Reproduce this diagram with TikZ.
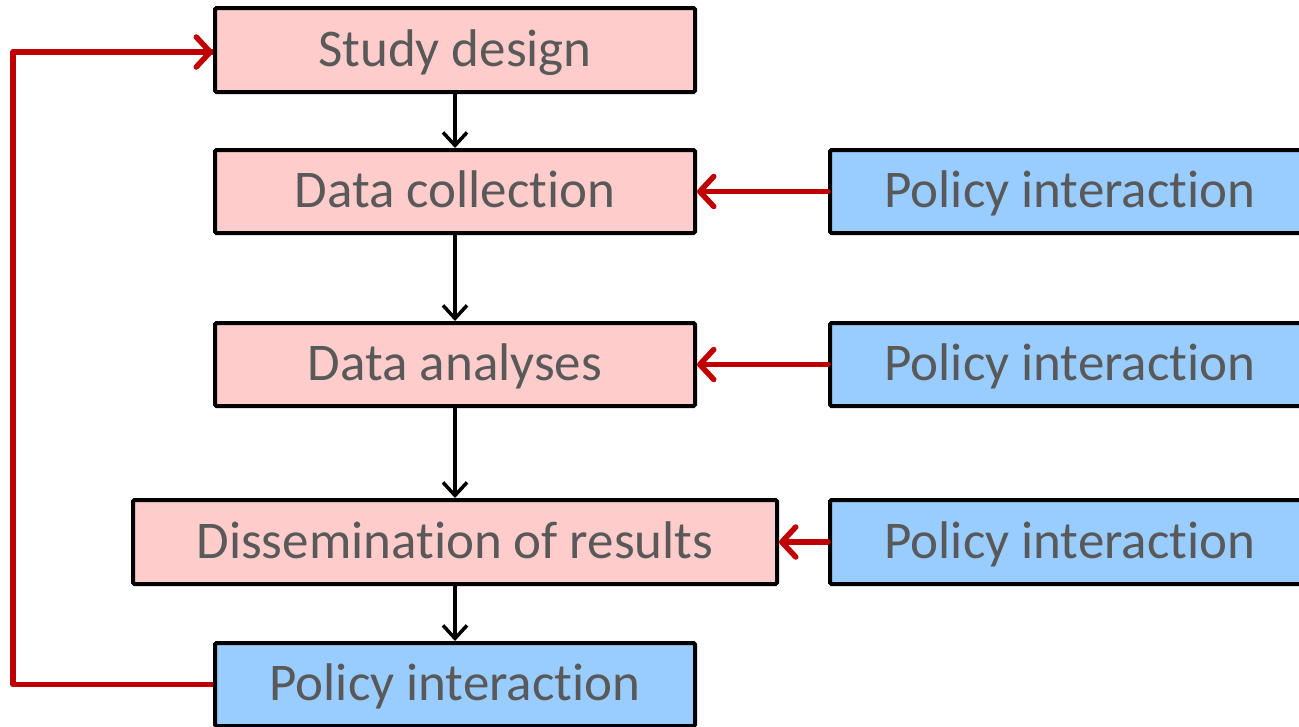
\documentclass[tikz,border=0pt]{standalone}
\usepackage{fontspec}
\setmainfont[Ligatures={NoCommon,NoRequired,NoContextual}]{Carlito}
\usetikzlibrary{arrows.meta}
\definecolor{pinkfill}{HTML}{FFCCCC}
\definecolor{bluefill}{HTML}{99CCFF}
\definecolor{darkred}{HTML}{C00000}
\definecolor{txtgray}{HTML}{595959}
\tikzset{
  stagebox/.style={draw=black, line width=4pt, rounded corners=1.5pt, fill=pinkfill,
    text=txtgray, font=\fontsize{53}{60}\selectfont, minimum height=83pt, inner sep=0pt,
    text height=32pt, text depth=0pt, anchor=center},
  policybox/.style={stagebox, fill=bluefill, minimum width=480pt},
  flowarrow/.style={draw=black, line width=3.5pt, -{Straight Barb[length=13pt, width=24pt, line width=3.5pt]}},
  redarrow/.style={draw=darkred, line width=5.5pt, line cap=round, -{Straight Barb[length=14pt, width=30pt, line width=5.5pt, round]}},
  redline/.style={draw=darkred, line width=5.5pt, line join=round},
}
\begin{document}
\begin{tikzpicture}[x=1pt,y=-1pt]
\useasboundingbox (0,0) rectangle (1299,726);
\clip (0,0) rectangle (1299,726);
\node[stagebox, minimum width=480pt, minimum height=84pt] (sd) at (455,50) {Study design};
\node[stagebox, minimum width=480pt] (dc) at (455,191.5) {Data collection};
\node[stagebox, minimum width=480pt] (da) at (455,364.5) {Data analyses};
\node[stagebox, minimum width=644pt, minimum height=84pt] (dr) at (455,542) {Dissemination of results};
\node[policybox] (pb) at (455,684.5) {Policy interaction};
\node[policybox] (p1) at (1070,191.5) {Policy interaction};
\node[policybox] (p2) at (1070,364.5) {Policy interaction};
\node[policybox, minimum height=84pt] (p3) at (1070,542) {Policy interaction};
\coordinate (lb) at (13,684.5);
\coordinate (lt) at (13,52);
\draw[flowarrow] (sd.south) -- (dc.north);
\draw[flowarrow] (dc.south) -- (da.north);
\draw[flowarrow] (da.south) -- (dr.north);
\draw[flowarrow] (dr.south) -- (pb.north);
\draw[redarrow] (p1.west) -- (dc.east);
\draw[redarrow] (p2.west) -- (da.east);
\draw[redarrow] (p3.west) -- (dr.east);
\draw[redline] (pb.west) -- (lb) -- (lt) -- (sd.west |- lt);
\draw[redarrow] ([xshift=-10pt]sd.west |- lt) -- (sd.west |- lt);
\end{tikzpicture}
\end{document}
